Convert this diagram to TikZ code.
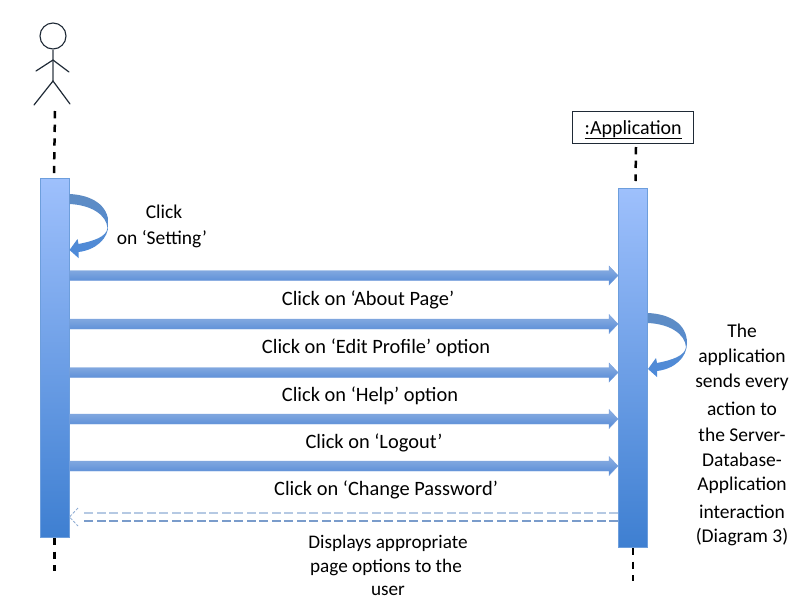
\documentclass[tikz,border=0pt]{standalone}
\usepackage{fontspec}
\setmainfont{Carlito}
\usetikzlibrary{calc}
\tikzset{
  x=1pt,y=-1pt,
  lbl/.style={font=\fontsize{19.5}{22}\selectfont,text=black,inner sep=0pt,align=center},
  msg/.style={lbl,font=\fontsize{20.4}{22}\selectfont},
  foot/.style={lbl,font=\fontsize{19.2}{22}\selectfont},
  bar/.style={draw=barline,line width=1pt,top color=bartop,bottom color=barbot,minimum width=29pt,inner sep=0pt,anchor=north},
  lifeline/.style={black,line width=2.5pt,dash pattern=on 7.3pt off 6.4pt},
  stick/.style={draw=stickc,line width=1.2pt,line cap=round},
  blockarrow/.style={top color=arrtop,bottom color=arrbot,draw=arrtop!60!arrbot,line width=0.4pt},
  selfarrow/.style={top color=selftop,bottom color=selfbot,draw=none},
  ret1/.style={retlight,line width=1.4pt,dash pattern=on 9pt off 3.5pt},
  ret2/.style={retdark,line width=1.2pt,dash pattern=on 9pt off 3.5pt},
  rethead/.style={retdark!70!retlight,line width=0.8pt,dash pattern=on 3pt off 1.5pt},
  pics/selfloop/.style={code={
    \path[selfarrow] (0,0) .. controls (22,1) and (39,11) .. (39,30)
      .. controls (39,45) and (26,56) .. (9,58) -- (9,64) -- (0,56) -- (8,45) -- (9,50)
      .. controls (24,47) and (37,43) .. (38,34) .. controls (37,21) and (22,11) .. (0,10) -- cycle;
  }}
}
\definecolor{bartop}{HTML}{9EC0FC}
\definecolor{barbot}{HTML}{3E7FD1}
\definecolor{barline}{HTML}{6D9EDC}
\definecolor{arrtop}{HTML}{8FB0E2}
\definecolor{arrbot}{HTML}{5289D6}
\definecolor{selftop}{HTML}{5F8CC3}
\definecolor{selfbot}{HTML}{4C8ADB}
\definecolor{retlight}{HTML}{B5C9E3}
\definecolor{retdark}{HTML}{7A9CCB}
\definecolor{stickc}{HTML}{1F2A36}
\newcommand{\blockarr}[2]{%
  \path[blockarrow] ($(#1)+(0,-5)$) -- ($(#2)+(-9,-5)$) -- ($(#2)+(-9,-9.5)$) -- (#2)
    -- ($(#2)+(-9,9.5)$) -- ($(#2)+(-9,5)$) -- ($(#1)+(0,5)$) -- cycle;}
\begin{document}
\begin{tikzpicture}
\useasboundingbox (0,0) rectangle (800,600);
% actor
\node[circle,draw=stickc,line width=1.1pt,minimum size=26pt,inner sep=0pt] (head) at (53,36) {};
\coordinate (neck) at (53,60);
\coordinate (hip) at (53,81);
\coordinate (handL) at (36,71);
\coordinate (handR) at (69,72);
\coordinate (footL) at (34,105);
\coordinate (footR) at (70,104);
\draw[draw=stickc!60!white,line width=2pt] (head.south) -- (hip);
\draw[stick] (handL) -- (neck) -- (handR);
\draw[stick] (footL) -- (hip) -- (footR);
% application
\node[draw=stickc,line width=0.9pt,minimum width=121pt,minimum height=32pt,inner sep=0pt,font=\fontsize{20}{22}\selectfont] (app) at (633.2,127) {\raisebox{-7pt}[0pt][0pt]{\underline{:Application}}};
% bars
\node[bar,minimum height=359pt] (lbar) at (54.5,178) {};
\node[bar,minimum height=359pt] (rbar) at (633,188) {};
% lifelines
\coordinate (ltop) at (55,111);
\coordinate (ltopend) at (54,174);
\coordinate (lbot) at (54.5,571);
\coordinate (rtop) at (636,147);
\coordinate (rtopend) at (635.5,181);
\coordinate (rbot) at (633,581);
\draw[lifeline] (ltop) -- (ltopend);
\draw[lifeline] (lbar.south) -- (lbot);
\draw[lifeline] (rtop) -- (rtopend);
\draw[lifeline] (rbar.south) -- (rbot);
% self loops
\pic at (lbar.east |- 0,194) {selfloop};
\pic at (rbar.east |- 0,313) {selfloop};
% messages
\foreach \n/\y in {a/275.5,b/324,c/372.5,d/419,e/466}{
  \coordinate (\n1) at (lbar.east |- 0,\y);
  \coordinate (\n2) at (rbar.west |- 0,\y);
  \blockarr{\n1}{\n2}
}
% return
\coordinate (r1a) at (rbar.west |- 0,513);
\coordinate (r1b) at (81,513);
\coordinate (r2a) at (rbar.west |- 0,521);
\coordinate (r2b) at (81,521);
\coordinate (rtip) at (lbar.east |- 0,517);
\draw[ret1] (r1a) -- (r1b);
\draw[ret2] (r2a) -- (r2b);
\draw[rethead] (78,508) -- (rtip) -- (78,526);
% labels
\node[lbl] (t1) at (164,212) {Click};
\node[lbl] (t2) at (162,239) {on ‘Setting’};
\node[msg] (t3) at (368,300) {Click on ‘About Page’};
\node[msg] (t4) at (376,348) {Click on ‘Edit Profile’ option};
\node[msg] (t5) at (370,396) {Click on ‘Help’ option};
\node[msg] (t6) at (374,443) {Click on ‘Logout’};
\node[msg] (t7) at (386,490) {Click on ‘Change Password’};
\node[lbl] (s1) at (742,331) {The};
\node[lbl] (s2) at (742,357.5) {application};
\node[lbl] (s3) at (742,382.5) {sends every};
\node[lbl] (s4) at (742,408.5) {action to};
\node[lbl] (s5) at (742,434.5) {the Server-};
\node[lbl] (s6) at (742,460) {Database-};
\node[lbl] (s7) at (742,485.5) {Application};
\node[lbl] (s8) at (742,511.5) {interaction};
\node[lbl] (s9) at (742,537.5) {(Diagram 3)};
\node[foot] (u1) at (388,543) {Displays appropriate};
\node[foot] (u2) at (386,567) {page options to the};
\node[foot] (u3) at (388,591) {user};
\end{tikzpicture}
\end{document}
